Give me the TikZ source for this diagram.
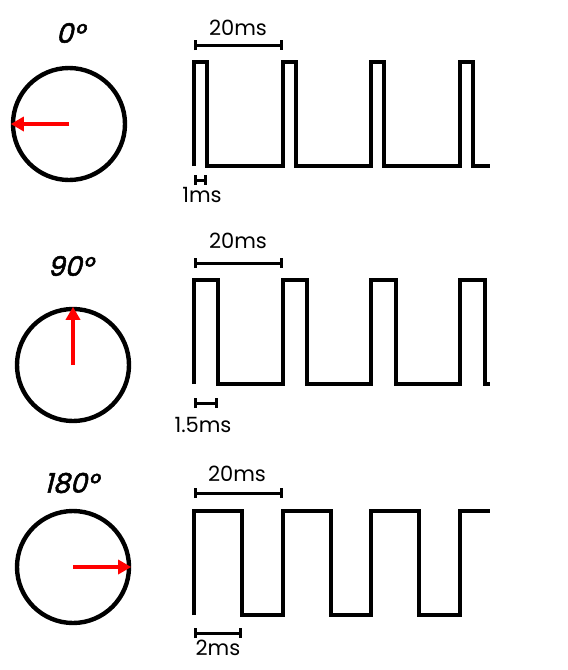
\documentclass[tikz,border=0pt]{standalone}
\usepackage{fontspec}
\setmainfont{Poppins}
\newfontfamily\anglefont[FakeSlant=0.25,FakeBold=2]{Poppins}
\usetikzlibrary{arrows.meta,positioning}

\tikzset{
  dial/.style={draw, circle, line width=4.4pt, minimum size=112pt, inner sep=0pt},
  needle/.style={draw=red, line width=4pt, -{Triangle[length=13pt,width=14pt]}},
  wave/.style={line width=3.2pt, line join=miter},
  dimline/.style={line width=3pt, {Bar[width=10pt]}-{Bar[width=10pt]}},
  anglelbl/.style={font=\fontsize{27}{27}\anglefont, inner sep=0pt},
  timelbl/.style={font=\fontsize{21}{21}\selectfont, inner sep=0pt},
}

\begin{document}
\begin{tikzpicture}[x=1pt,y=-1pt]
    \useasboundingbox (0,0) rectangle (568,670);

    % 0 degrees, 1ms pulse
    \node (ang0) [anglelbl] at (70,33) {0°};
    \node (dial0) [dial] at (69,124) {};
    \draw[needle] (dial0.center) -- (dial0.west);
    \draw[wave] (194,166) -- (194,62) -- (207,62) -- (207,166) -- (283,166) -- (283,62) -- (296,62) -- (296,166)
        -- (371,166) -- (371,62) -- (384,62) -- (384,166) -- (460,166) -- (460,62) -- (473,62) -- (473,166) -- (490,166);
    \coordinate (p0a) at (194,45);
    \coordinate (p0b) at (283,45);
    \draw[dimline] (p0a) -- (p0b);
    \node (per0) [timelbl] at (238,28) {20ms};
    \coordinate (w0a) at (194,180);
    \coordinate (w0b) at (207,180);
    \draw[dimline] (w0a) -- (w0b);
    \node (wid0) [timelbl] at (202,195) {1ms};

    % 90 degrees, 1.5ms pulse
    \node (ang90) [anglelbl] at (70,266) {90°};
    \node (dial90) [dial] at (73,365) {};
    \draw[needle] (dial90.center) -- (dial90.north);
    \draw[wave] (194,384) -- (194,280) -- (218,280) -- (218,384) -- (283,384) -- (283,280) -- (307,280) -- (307,384)
        -- (371,384) -- (371,280) -- (396,280) -- (396,384) -- (460,384) -- (460,280) -- (485,280) -- (485,384) -- (490,384);
    \coordinate (p90a) at (194,263);
    \coordinate (p90b) at (283,263);
    \draw[dimline] (p90a) -- (p90b);
    \node (per90) [timelbl] at (238,241) {20ms};
    \coordinate (w90a) at (194,403);
    \coordinate (w90b) at (218,403);
    \draw[dimline] (w90a) -- (w90b);
    \node (wid90) [timelbl] at (203,425) {1.5ms};

    % 180 degrees, 2ms pulse
    \node (ang180) [anglelbl] at (71,483) {180°};
    \node (dial180) [dial] at (73,567) {};
    \draw[needle] (dial180.center) -- (dial180.east);
    \draw[wave] (194,615) -- (194,511) -- (242,511) -- (242,615) -- (283,615) -- (283,511) -- (331,511) -- (331,615)
        -- (371,615) -- (371,511) -- (419,511) -- (419,615) -- (460,615) -- (460,511) -- (490,511);
    \coordinate (p180a) at (194,493);
    \coordinate (p180b) at (283,493);
    \draw[dimline] (p180a) -- (p180b);
    \node (per180) [timelbl] at (237,474) {20ms};
    \coordinate (w180a) at (194,633);
    \coordinate (w180b) at (242,633);
    \draw[dimline] (w180a) -- (w180b);
    \node (wid180) [timelbl] at (218,648) {2ms};
\end{tikzpicture}
\end{document}
